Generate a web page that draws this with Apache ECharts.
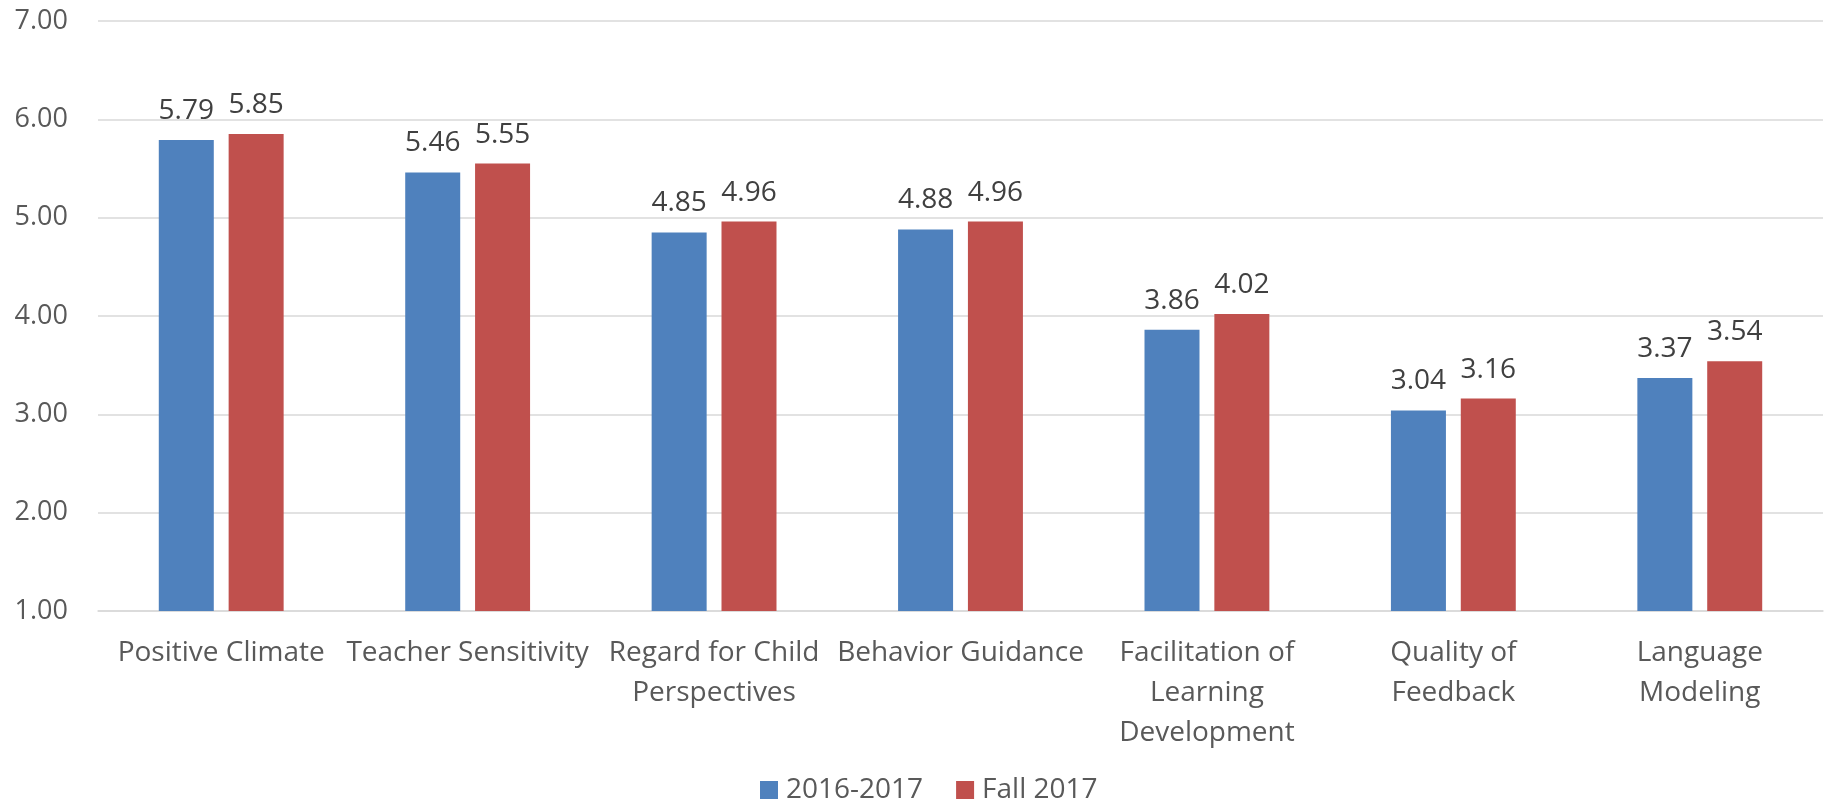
<!DOCTYPE html>
<html>
<head>
<meta charset="utf-8">
<script src="https://cdn.jsdelivr.net/npm/echarts@6/dist/echarts.min.js"></script>
<style>html,body{margin:0;padding:0;background:#fff;}#c{width:1826px;height:803px;}</style>
</head>
<body>
<div id="c"></div>
<script>
const categories = ["Positive Climate", "Teacher Sensitivity", "Regard for Child\nPerspectives", "Behavior Guidance", "Facilitation of\nLearning\nDevelopment", "Quality of\nFeedback", "Language\nModeling"];
const seriesNames = ["2016-2017", "Fall 2017"];
const values2016 = [5.79, 5.46, 4.85, 4.88, 3.86, 3.04, 3.37];
const valuesFall2017 = [5.85, 5.55, 4.96, 4.96, 4.02, 3.16, 3.54];
const yMin = 1, yMax = 7, yStep = 1;

const font = "'Open Sans', 'DejaVu Sans', sans-serif";
const chart = echarts.init(document.getElementById('c'));
const labelCfg = {
  show: true, position: 'top', distance: 15,
  color: '#404040', fontSize: 28, fontFamily: font,
  formatter: p => p.value.toFixed(2)
};
chart.setOption({
  animation: false,
  textStyle: { fontFamily: font },
  grid: { left: 98, right: 3, top: 21, bottom: 192, containLabel: false },
  legend: {
    top: 771, left: 755,
    itemWidth: 18, itemHeight: 18, itemGap: 33,
    icon: 'rect',
    textStyle: { color: '#595959', fontSize: 28, fontFamily: font, padding: [0, 0, 0, 3] },
    data: seriesNames
  },
  xAxis: {
    type: 'category', data: categories,
    axisLine: { show: true, lineStyle: { color: '#D9D9D9', width: 1.5 } },
    axisTick: { show: false },
    axisLabel: { color: '#595959', fontSize: 28, fontFamily: font, lineHeight: 40, margin: 22, interval: 0 }
  },
  yAxis: {
    type: 'value', min: yMin, max: yMax, interval: yStep,
    axisLine: { show: false }, axisTick: { show: false },
    splitLine: { lineStyle: { color: '#D9D9D9', width: 1.5 } },
    axisLabel: { color: '#595959', fontSize: 27, fontFamily: font, margin: 30, formatter: v => v.toFixed(2) }
  },
  series: [
    { name: seriesNames[0], type: 'bar', data: values2016, barWidth: 55, barGap: '27%',
      itemStyle: { color: '#4F81BD' }, label: labelCfg },
    { name: seriesNames[1], type: 'bar', data: valuesFall2017, barWidth: 55, barGap: '27%',
      itemStyle: { color: '#C0504D' }, label: labelCfg }
  ]
});
</script>
</body>
</html>
